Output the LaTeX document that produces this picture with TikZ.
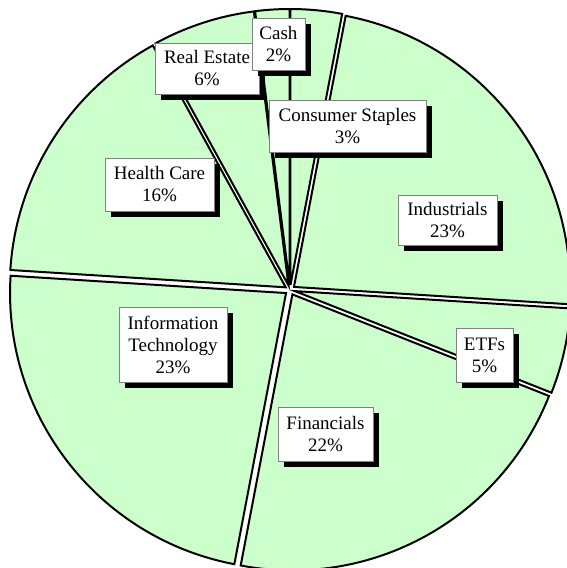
\documentclass[tikz,border=0pt]{standalone}
\usepackage{fontspec}
\setmainfont{Liberation Serif}
\usetikzlibrary{shadows}
\definecolor{piegreen}{RGB}{204,255,204}
\definecolor{boxline}{RGB}{128,128,128}
\tikzset{
  slice/.style={fill=piegreen,draw=black,line width=2pt},
  lbl/.style={fill=white,draw=boxline,line width=0.8pt,inner sep=0pt,align=center,
    font=\fontsize{19}{22}\selectfont,
    drop shadow={shadow xshift=6pt,shadow yshift=-6pt,opacity=1,fill=black}}
}
\begin{document}
\begin{tikzpicture}[x=1pt,y=1pt]
\useasboundingbox (-290,-278) rectangle (277,290);
\clip (-290,-278) rectangle (277,290);
\foreach \a/\b in {79.2/90,90/97.2,97.2/118.8,118.8/176.4,176.4/259.2,259.2/338.4,338.4/356.4,356.4/439.2}{
  \pgfmathsetmacro{\m}{(\a+\b)/2}
  \draw[slice] (\m:5) -- ++(\a:276) arc[start angle=\a,end angle=\b,radius=276] -- cycle;
}
\node[lbl,minimum width=104pt,minimum height=51pt] (re) at (-83,221.5) {Real Estate\\6\%};
\node[lbl,minimum width=53pt,minimum height=52pt] (cash) at (-11.5,246) {Cash\\2\%};
\node[lbl,minimum width=157pt,minimum height=52pt] (cs) at (57.5,164) {Consumer Staples\\3\%};
\node[lbl,minimum width=99pt,minimum height=50pt] (ind) at (157.5,70) {Industrials\\23\%};
\node[lbl,minimum width=57pt,minimum height=54pt] (etf) at (194.5,-65) {ETFs\\5\%};
\node[lbl,minimum width=95pt,minimum height=54pt] (fin) at (35.5,-144) {Financials\\22\%};
\node[lbl,minimum width=108pt,minimum height=75pt] (it) at (-117,-54.5) {Information\\Technology\\23\%};
\node[lbl,minimum width=109pt,minimum height=53pt] (hc) at (-130.5,105.5) {Health Care\\16\%};
\end{tikzpicture}
\end{document}
